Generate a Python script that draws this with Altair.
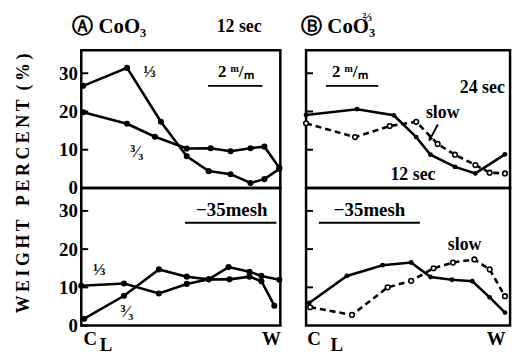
import altair as alt
import pandas as pd

FONT = "Liberation Serif"
Y_MAX = 36
W_L, W_R, H = 201, 206, 139

# ---------------- data (x: position from C_L=0 to W=100, y: weight %) ----------------
# Panel A (CoO3), +2 mm fraction
a_top_third_x = [1, 23, 40, 53, 64, 75, 85, 92, 99.5]
a_top_third_y = [26.7, 31.4, 17.3, 8.3, 4.4, 3.6, 1.3, 2.3, 5.0]
a_top_full_x = [1, 23, 37, 53, 65, 75, 85, 92, 99.5]
a_top_full_y = [19.8, 16.8, 13.4, 10.3, 10.4, 9.6, 10.4, 10.8, 5.3]
# Panel A, -35 mesh fraction
a_bot_third_x = [0, 21.5, 39, 53, 64, 74, 84.5, 90.5, 99.5]
a_bot_third_y = [10.4, 11.0, 8.4, 10.9, 12.1, 15.3, 14.1, 13.0, 12.0]
a_bot_full_x = [1.5, 21.5, 39, 53, 64, 74.5, 84.5, 90.5, 97]
a_bot_full_y = [1.8, 7.8, 14.7, 12.8, 12.1, 12.1, 12.8, 11.6, 5.2]
# Panel B (CoO3 2/3), +2 mm fraction
b_top_12s_x = [0, 25, 43, 54, 61, 73, 83, 97.5]
b_top_12s_y = [19.1, 20.6, 19.0, 13.3, 8.7, 5.5, 3.8, 8.8]
b_top_slow_x = [0, 24, 41, 54, 64.5, 73, 83, 90, 97.5]
b_top_slow_y = [16.9, 13.3, 16.2, 17.3, 11.5, 8.7, 6.0, 4.0, 3.8]
# Panel B, -35 mesh fraction
b_bot_12s_x = [1.5, 20, 37.5, 51.5, 61, 71.5, 81.5, 90, 97.5]
b_bot_12s_y = [5.9, 13.0, 15.8, 16.5, 12.7, 12.0, 11.6, 7.4, 3.4]
b_bot_slow_x = [2, 22.5, 40, 51.5, 62.5, 72, 82.5, 90, 97.5]
b_bot_slow_y = [4.8, 2.8, 10.0, 11.7, 15.0, 16.5, 17.3, 14.7, 7.7]

tick_values = [0, 10, 20, 30]
TS = "\u2009"
NB = "\u00a0"
y_title = (TS.join("WEIGHT") + NB * 3 + TS.join("PERCENT") + NB * 2 + TS.join("(%)"))

# annotations: text, x, y, font size, align
a_top_text = ["\u24b6 CoO\u2083", "12 sec", "\u2153", "\u00b3\u2044\u2083", "2 \u1d50/\u2098"]
a_top_tx = [-4.5, 68, 34.3, 27.9, 77.6]
a_top_ty = [42.2, 42.2, 30.3, 9.3, 30.3]
a_top_ts = [21, 18, 17, 17, 17]
a_top_ta = ["left", "left", "center", "center", "center"]
a_top_rule_x = [63.7]; a_top_rule_x2 = [91.0]; a_top_rule_y = [26.7]

b_top_text = ["\u24b7 CoO\u2083", "\u2154", "2 \u1d50/\u2098", "24 sec", "slow", "12 sec"]
b_top_tx = [-2.4, 30.0, 21.4, 86.4, 67.0, 52.4]
b_top_ty = [42.2, 44.6, 30.3, 26.2, 19.7, 3.4]
b_top_ts = [21, 13, 17, 18, 18, 18]
b_top_ta = ["left", "center", "center", "center", "center", "center"]
b_top_rule_x = [9.7]; b_top_rule_x2 = [35.4]; b_top_rule_y = [26.7]
b_arrow_x = [64.6]; b_arrow_x2 = [60.7]; b_arrow_y = [16.6]; b_arrow_y2 = [12.7]

a_bot_text = ["\u221235mesh", "\u2153", "\u00b3\u2044\u2083", "C", "L", "W"]
a_bot_tx = [75.6, 9.0, 22.9, 4.5, 12.4, 95.5]
a_bot_ty = [30.3, 14.5, 3.6, -3.4, -5.2, -3.4]
a_bot_ts = [19, 17, 17, 19, 19, 19]
a_bot_ta = ["center"] * 6
a_bot_rule_x = [52.2]; a_bot_rule_x2 = [98.0]; a_bot_rule_y = [26.9]

b_bot_text = ["\u221235mesh", "slow", "C", "L", "W"]
b_bot_tx = [31.1, 77.7, 3.9, 15.0, 93.2]
b_bot_ty = [30.3, 21.0, -3.4, -5.2, -3.4]
b_bot_ts = [19, 18, 19, 19, 19]
b_bot_ta = ["center"] * 5
b_bot_rule_x = [6.3]; b_bot_rule_x2 = [55.8]; b_bot_rule_y = [26.9]


def panel(width, series, texts, rule, show_labels, title=None, arrow=None):
    xs = alt.Scale(domain=[0, 100])
    ys = alt.Scale(domain=[0, Y_MAX])
    if show_labels:
        axis_kw = dict(values=tick_values, ticks=False, domain=False, grid=False,
                       labelFont=FONT, labelFontSize=19, labelFontWeight="bold",
                       labelColor="black", labelPadding=4)
        if title:
            axis_kw.update(titleFont=FONT, titleFontSize=18, titleFontWeight="bold",
                           titleColor="black", titleAngle=270, titleX=-58, titleY=H - 5,
                           titleAlign="center", titleBaseline="middle")
        yaxis = alt.Axis(**axis_kw)
    else:
        yaxis = None

    def X():
        return alt.X("x:Q", scale=xs, axis=None)

    def Y():
        if title:
            return alt.Y("y:Q", scale=ys, axis=yaxis, title=title)
        return alt.Y("y:Q", scale=ys, axis=yaxis, title=None)

    layers = []
    tdf = pd.DataFrame({"y": tick_values[1:] if not show_labels else tick_values})
    layers.append(alt.Chart(tdf).mark_rule(color="black", strokeWidth=2).encode(
        x=alt.value(0), x2=alt.value(7), y=Y()))
    for xv, yv, dashed, filled in series:
        df = pd.DataFrame({"x": xv, "y": yv})
        lk = dict(color="black", strokeWidth=2.6)
        if dashed:
            lk["strokeDash"] = [6, 4]
        layers.append(alt.Chart(df).mark_line(**lk).encode(x=X(), y=Y()))
        if filled:
            layers.append(alt.Chart(df).mark_circle(color="black", size=filled, opacity=1)
                          .encode(x=X(), y=Y()))
        else:
            layers.append(alt.Chart(df).mark_circle(fill="white", stroke="black", strokeWidth=1.6,
                                                    size=22, opacity=1).encode(x=X(), y=Y()))
    rdf = pd.DataFrame({"x": rule[0], "x2": rule[1], "y": rule[2]})
    layers.append(alt.Chart(rdf).mark_rule(color="black", strokeWidth=2).encode(
        x=X(), x2="x2:Q", y=Y()))
    if arrow:
        adf = pd.DataFrame({"x": arrow[0], "x2": arrow[1], "y": arrow[2], "y2": arrow[3]})
        layers.append(alt.Chart(adf).mark_rule(color="black", strokeWidth=2).encode(
            x=X(), x2="x2:Q", y=Y(), y2="y2:Q"))
        hdf = pd.DataFrame({"x": arrow[1], "y": arrow[3]})
        layers.append(alt.Chart(hdf).mark_point(shape="triangle-up", filled=True, color="black",
                                                size=30, angle=208, opacity=1).encode(x=X(), y=Y()))
    t, tx, ty, ts, ta = texts
    tdf2 = pd.DataFrame({"t": t, "x": tx, "y": ty, "s": ts, "a": ta})
    for al in ["left", "center"]:
        sub = tdf2[tdf2["a"] == al]
        if len(sub) == 0:
            continue
        layers.append(alt.Chart(sub).mark_text(font=FONT, fontWeight="bold", color="black",
                                               align=al, baseline="middle").encode(
            x=X(), y=Y(), text="t:N", size=alt.Size("s:Q", scale=None)))
    return alt.layer(*layers).properties(width=width, height=H)


tl = panel(W_L,
           [(a_top_third_x, a_top_third_y, False, 38), (a_top_full_x, a_top_full_y, False, 38)],
           (a_top_text, a_top_tx, a_top_ty, a_top_ts, a_top_ta),
           (a_top_rule_x, a_top_rule_x2, a_top_rule_y), True, title=y_title)
tr = panel(W_R,
           [(b_top_12s_x, b_top_12s_y, False, 24), (b_top_slow_x, b_top_slow_y, True, None)],
           (b_top_text, b_top_tx, b_top_ty, b_top_ts, b_top_ta),
           (b_top_rule_x, b_top_rule_x2, b_top_rule_y), False,
           arrow=(b_arrow_x, b_arrow_x2, b_arrow_y, b_arrow_y2))
bl = panel(W_L,
           [(a_bot_third_x, a_bot_third_y, False, 38), (a_bot_full_x, a_bot_full_y, False, 38)],
           (a_bot_text, a_bot_tx, a_bot_ty, a_bot_ts, a_bot_ta),
           (a_bot_rule_x, a_bot_rule_x2, a_bot_rule_y), True)
br = panel(W_R,
           [(b_bot_12s_x, b_bot_12s_y, False, 24), (b_bot_slow_x, b_bot_slow_y, True, None)],
           (b_bot_text, b_bot_tx, b_bot_ty, b_bot_ts, b_bot_ta),
           (b_bot_rule_x, b_bot_rule_x2, b_bot_rule_y), False)

chart = alt.concat(tl, tr, bl, br, columns=2, spacing={"row": 0, "column": 26},
                   bounds="flush",
                   padding={"left": 5, "top": 0, "right": 5, "bottom": 0}).configure_view(
    stroke="black", strokeWidth=2.5)

chart.save("out.html", embed_options={"renderer": "svg", "actions": False})
